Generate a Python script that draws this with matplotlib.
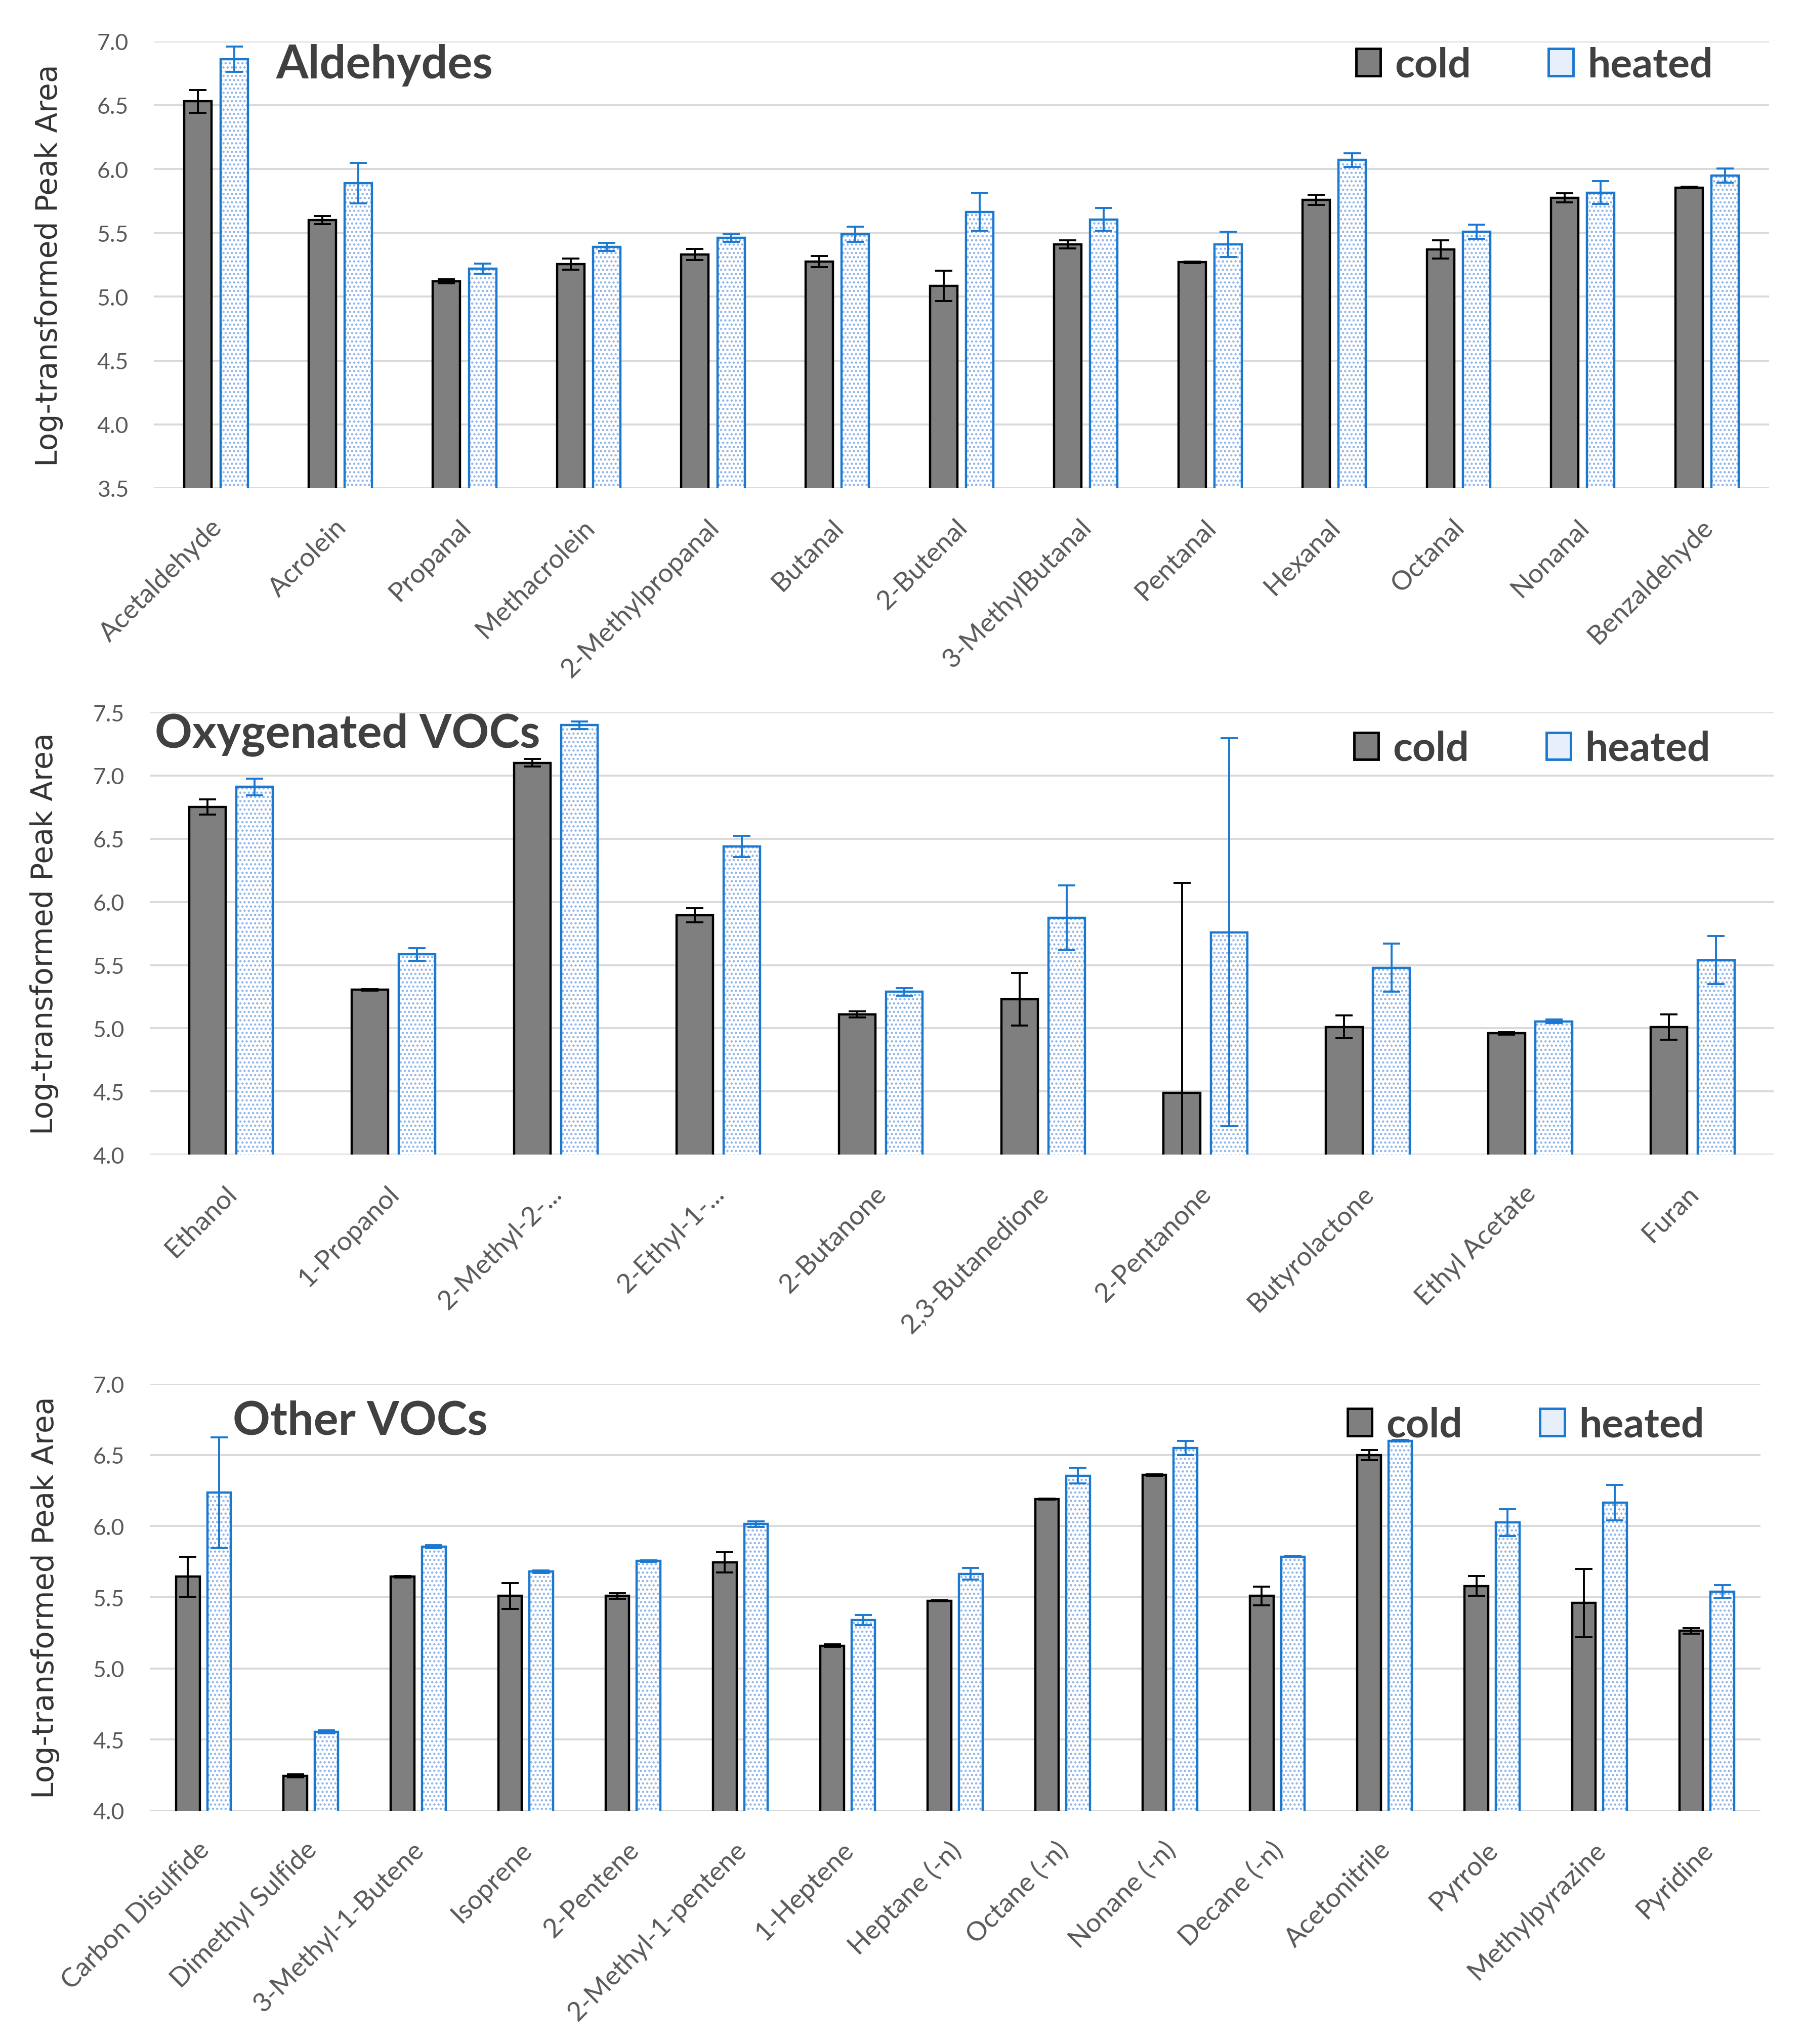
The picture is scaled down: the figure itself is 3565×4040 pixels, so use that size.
import matplotlib
matplotlib.use("Agg")
import matplotlib.pyplot as plt
from matplotlib.patches import Patch
from matplotlib.transforms import ScaledTranslation
import numpy as np

# ---------------- data ----------------
ald_names = ["Acetaldehyde", "Acrolein", "Propanal", "Methacrolein", "2-Methylpropanal",
             "Butanal", "2-Butenal", "3-MethylButanal", "Pentanal", "Hexanal",
             "Octanal", "Nonanal", "Benzaldehyde"]
ald_cold = [6.53, 5.60, 5.12, 5.255, 5.33, 5.275, 5.085, 5.41, 5.27, 5.76, 5.37, 5.775, 5.855]
ald_cold_err = [0.09, 0.03, 0.015, 0.045, 0.045, 0.045, 0.12, 0.03, 0.005, 0.04, 0.07, 0.035, 0.005]
ald_heat = [6.86, 5.89, 5.22, 5.39, 5.46, 5.49, 5.665, 5.605, 5.41, 6.07, 5.51, 5.815, 5.95]
ald_heat_err = [0.10, 0.16, 0.04, 0.03, 0.03, 0.06, 0.15, 0.09, 0.10, 0.055, 0.055, 0.09, 0.055]

oxy_names = ["Ethanol", "1-Propanol", "2-Methyl-2-...", "2-Ethyl-1-...", "2-Butanone",
             "2,3-Butanedione", "2-Pentanone", "Butyrolactone", "Ethyl Acetate", "Furan"]
oxy_cold = [6.75, 5.305, 7.10, 5.895, 5.11, 5.23, 4.49, 5.01, 4.96, 5.01]
oxy_cold_err = [0.06, 0.005, 0.03, 0.055, 0.025, 0.21, 1.66, 0.09, 0.01, 0.10]
oxy_heat = [6.91, 5.585, 7.40, 6.44, 5.29, 5.875, 5.76, 5.48, 5.055, 5.54]
oxy_heat_err = [0.065, 0.05, 0.03, 0.085, 0.03, 0.255, 1.535, 0.19, 0.015, 0.19]

oth_names = ["Carbon Disulfide", "Dimethyl Sulfide", "3-Methyl-1-Butene", "Isoprene", "2-Pentene",
             "2-Methyl-1-pentene", "1-Heptene", "Heptane (-n)", "Octane (-n)", "Nonane (-n)",
             "Decane (-n)", "Acetonitrile", "Pyrrole", "Methylpyrazine", "Pyridine"]
oth_cold = [5.645, 4.245, 5.645, 5.51, 5.51, 5.745, 5.16, 5.475, 6.19, 6.36, 5.51, 6.50, 5.58, 5.46, 5.265]
oth_cold_err = [0.14, 0.01, 0.005, 0.09, 0.02, 0.07, 0.01, 0.005, 0.005, 0.005, 0.065, 0.035, 0.07, 0.24, 0.02]
oth_heat = [6.235, 4.555, 5.855, 5.68, 5.755, 6.015, 5.34, 5.665, 6.355, 6.55, 5.785, 6.60, 6.025, 6.165, 5.54]
oth_heat_err = [0.39, 0.01, 0.01, 0.01, 0.005, 0.02, 0.035, 0.04, 0.055, 0.05, 0.005, 0.005, 0.095, 0.125, 0.045]

series_labels = ["cold", "heated"]
titles = ["Aldehydes", "Oxygenated VOCs", "Other VOCs"]
ylabel = "Log-transformed Peak Area"

# ---------------- style ----------------
COLD_FACE = "#7f7f7f"
COLD_EDGE = "#000000"
HEAT_EDGE = "#1a78d0"
HEAT_DOT = "#8fb4ea"
HEAT_FACE = "#ffffff"
GRID = "#d9d9d9"
TICK_C = "#595959"
TEXT_C = "#404040"
FONT = ["Lato", "DejaVu Sans"]

plt.rcParams["hatch.linewidth"] = 2.0

fig = plt.figure(figsize=(35.66, 40.41), dpi=100)

panels = [
    dict(names=ald_names, c=ald_cold, ce=ald_cold_err, h=ald_heat, he=ald_heat_err,
         rect=[0.0853, 0.7610, 0.8951, 0.2185], ylim=(3.5, 7.0), width=0.22,
         title_xy=(0.0755, 0.948), leg_xy=(0.965, 0.947)),
    dict(names=oxy_names, c=oxy_cold, ce=oxy_cold_err, h=oxy_heat, he=oxy_heat_err,
         rect=[0.0830, 0.4350, 0.9000, 0.2163], ylim=(4.0, 7.5), width=0.225,
         title_xy=(0.003, 0.951), leg_xy=(0.961, 0.918)),
    dict(names=oth_names, c=oth_cold, ce=oth_cold_err, h=oth_heat, he=oth_heat_err,
         rect=[0.0830, 0.1141, 0.8926, 0.2088], ylim=(4.0, 7.0), width=0.22,
         title_xy=(0.0515, 0.913), leg_xy=(0.965, 0.904)),
]

off = 0.145
for i, p in enumerate(panels):
    ax = fig.add_axes(p["rect"])
    n = len(p["names"])
    x = np.arange(n)
    w = p["width"]
    # cold bars
    ax.bar(x - off, p["c"], width=w, color=COLD_FACE, edgecolor=COLD_EDGE,
           linewidth=3.2, zorder=3)
    # heated bars: dotted fill + blue outline
    ax.bar(x + off, p["h"], width=w, color=HEAT_FACE, edgecolor=HEAT_DOT,
           hatch="..", linewidth=0, zorder=3)
    ax.bar(x + off, p["h"], width=w, fill=False, edgecolor=HEAT_EDGE,
           linewidth=3.2, zorder=4)
    # error bars
    ax.errorbar(x - off, p["c"], yerr=p["ce"], fmt="none", ecolor=COLD_EDGE,
                elinewidth=2.8, capsize=12, capthick=2.8, zorder=5)
    ax.errorbar(x + off, p["h"], yerr=p["he"], fmt="none", ecolor=HEAT_EDGE,
                elinewidth=2.8, capsize=12, capthick=2.8, zorder=5)

    ymin, ymax = p["ylim"]
    ax.set_ylim(ymin, ymax)
    ax.set_xlim(-0.5, n - 0.5)
    ticks = np.arange(ymin, ymax + 0.01, 0.5)
    ax.set_yticks(ticks)
    ax.set_yticklabels([f"{v:.1f}" for v in ticks], family=FONT, fontsize=32, color=TICK_C)
    ax.yaxis.grid(True, color=GRID, linewidth=2.8, zorder=0)
    ax.set_axisbelow(True)
    for s in ax.spines.values():
        s.set_visible(False)
    ax.tick_params(axis="y", length=0, pad=36)
    ax.tick_params(axis="x", length=0, pad=50)
    ax.set_xticks(x)
    ax.set_xticklabels(p["names"], rotation=45, ha="right", va="center",
                       rotation_mode="anchor", family=FONT, fontsize=38, color=TICK_C)
    shift = ScaledTranslation(0.04, 0, fig.dpi_scale_trans)
    for lab in ax.get_xticklabels():
        lab.set_transform(lab.get_transform() + shift)

    ax.set_ylabel(ylabel, family=["DejaVu Sans"], fontsize=42, color="#333333")
    ax.yaxis.set_label_coords(-0.056, 0.5)

    ax.text(p["title_xy"][0], p["title_xy"][1], titles[i], transform=ax.transAxes,
            ha="left", va="center", family=FONT, fontweight="bold", fontsize=66,
            color=TEXT_C, zorder=6)

    handles = [Patch(facecolor=COLD_FACE, edgecolor=COLD_EDGE, linewidth=3.5),
               Patch(facecolor="#e6effa", edgecolor=HEAT_EDGE, linewidth=3.5)]
    ax.legend(handles, series_labels, ncol=2, loc="center right",
              bbox_to_anchor=p["leg_xy"], frameon=False,
              prop=dict(family=FONT, weight="bold", size=58),
              labelcolor=TEXT_C, handlelength=0.6, handleheight=0.65,
              handletextpad=0.35, columnspacing=1.9, borderpad=0, borderaxespad=0)

fig.savefig("out.png", dpi=100, facecolor="white")
